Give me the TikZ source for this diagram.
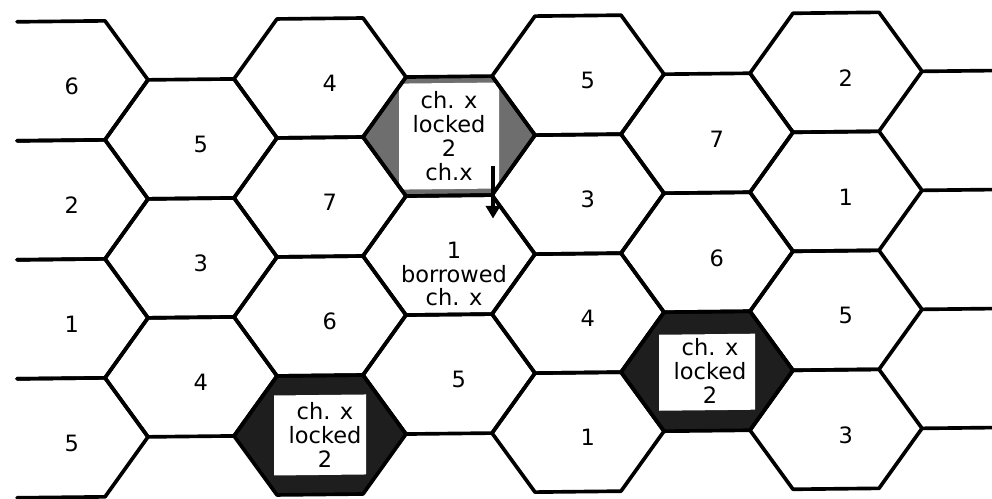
\documentclass[tikz,border=0pt]{standalone}
\usepackage{fontspec}
\setmainfont{DejaVu Sans}
\usetikzlibrary{calc,arrows.meta}
\definecolor{bloqueo}{HTML}{1E1E1E}
\definecolor{bloqueoclaro}{HTML}{6E6E6E}

\begin{document}
\begin{tikzpicture}[x=0.025cm,y=-0.025cm,>=Latex,line cap=round,line join=round,
    borde/.style={line width=2.6pt},
    cifra/.style={font=\fontsize{16}{17}\selectfont,xshift=7pt,yshift=-4pt},
    texto/.style={font=\fontsize{16}{17}\selectfont,align=center,inner sep=0pt}]
  \useasboundingbox (0,0) rectangle (992,499);
  \begin{scope}[yslant=0.011]
    % --- centros de las celdas (columna/nivel) ---
    \foreach \c in {0,...,6}{
      \foreach \j in {1,...,7}{
        \coordinate (h-\c-\j) at ({62+129*\c},{22+59.5*\j});
      }
    }
    % --- celdas con canal bloqueado ---
    \foreach \c/\j/\col in {3/2/bloqueoclaro,2/7/bloqueo,5/6/bloqueo}{
      \fill[\col] (h-\c-\j) ++(-86,0) -- ++(43,-59.5) -- ++(86,0) -- ++(43,59.5)
                  -- ++(-43,59.5) -- ++(-86,0) -- cycle;
    }
    \fill[white] (h-3-2) ++(-50,-53) rectangle ++(100,106);
    \fill[white] (h-2-7) ++(-46,-40) rectangle ++(92,80);
    \fill[white] (h-5-6) ++(-48,-37) rectangle ++(96,76);
    % --- rejilla hexagonal ---
    \foreach \c/\j in {1/2,1/4,1/6,3/2,3/4,3/6,5/2,5/4,5/6,
                       2/1,2/3,2/5,2/7,4/1,4/3,4/5,4/7,6/1,6/3,6/5,6/7}{
      \draw[borde] (h-\c-\j) ++(-86,0) -- ++(43,-59.5) -- ++(86,0) -- ++(43,59.5)
                   -- ++(-43,59.5) -- ++(-86,0) -- cycle;
    }
    % --- media celda a la izquierda, bordes sueltos a la derecha ---
    \foreach \j in {1,3,5,7}{
      \draw[borde] (h-0-\j) ++(-45,-59.5) -- ++(88,0) -- ++(43,59.5)
                   -- ++(-43,59.5) -- ++(-88,0);
      \draw[borde] (h-6-\j) ++(86,0) -- ++(70,0);
    }
    % --- numeros de canal ---
    \foreach \c/\j/\n in {0/1/6,0/3/2,0/5/1,0/7/5,1/2/5,1/4/3,1/6/4,
                          2/1/4,2/3/7,2/5/6,3/6/5,4/1/5,4/3/3,4/5/4,4/7/1,
                          5/2/7,5/4/6,6/1/2,6/3/1,6/5/5,6/7/3}{
      \node[cifra] (n-\c-\j) at (h-\c-\j) {\n};
    }
    % --- celdas especiales ---
    \node[texto] (bloq-a) at (h-3-2) {ch. x\\locked\\2\\ch.x};
    \node[texto] (prest) at ($(h-3-4)+(5,19)$) {1\\borrowed\\ch. x};
    \node[texto] (bloq-b) at ($(h-2-7)+(5,0)$) {ch. x\\locked\\2};
    \node[texto] (bloq-c) at ($(h-5-6)+(3,0)$) {ch. x\\locked\\2};
    % --- prestamo del canal x ---
    \coordinate (sal) at ($(h-3-2)+(44,30)$);
    \coordinate (lleg) at ($(h-3-4)+(44,-36)$);
    \draw[-{Triangle[width=10pt,length=9pt]},line width=2.8pt,line cap=butt]
      (sal) -- (lleg);
  \end{scope}
\end{tikzpicture}
\end{document}
